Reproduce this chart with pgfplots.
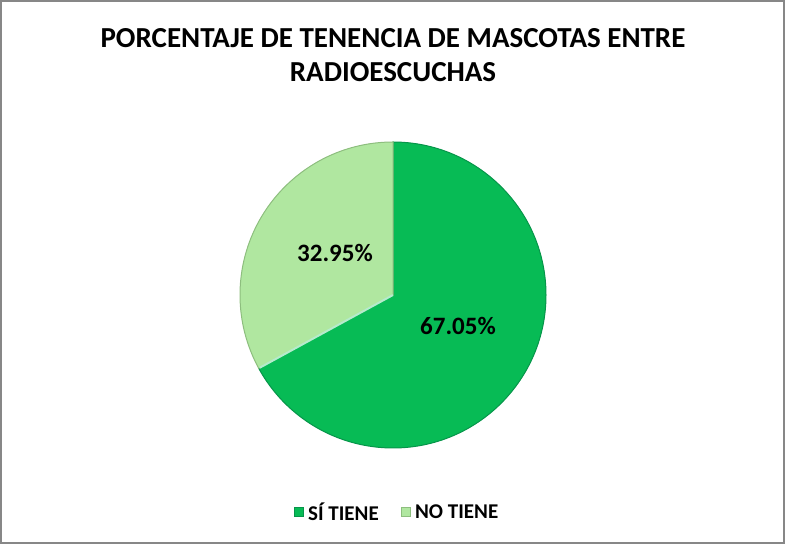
\documentclass[border=0pt]{standalone}
\usepackage{fontspec}
\setmainfont{Carlito}
\usepackage{pgfplots}
\usepackage{pgfplotstable}
\pgfplotsset{compat=1.18}
\definecolor{sigreen}{HTML}{07BB55}
\definecolor{siedge}{HTML}{06954A}
\definecolor{nogreen}{HTML}{B0E7A0}
\definecolor{noedge}{HTML}{8DBE7E}
\definecolor{frame}{HTML}{878787}
\pgfplotstableread{
label value
SI 67.05
NO 32.95
}\pietable
\begin{document}
\begin{tikzpicture}
\pgfplotstablegetelem{0}{value}\of\pietable\let\vsi\pgfplotsretval
\pgfplotstablegetelem{1}{value}\of\pietable\let\vno\pgfplotsretval
\pgfmathsetmacro{\endsi}{90-3.6*\vsi}
\begin{axis}[
  x=1pt, y=1pt,
  xmin=0, xmax=785, ymin=0, ymax=544,
  hide axis,
  clip=false,
  /pgf/number format/assume math mode=true,
  legend columns=2,
  legend style={at={(axis cs:397,32)}, anchor=center, draw=none, fill=none,
    font=\bfseries\fontsize{21}{24}\selectfont,
    /tikz/every odd column/.append style={column sep=3pt},
    /tikz/every even column/.append style={column sep=20pt}},
  legend image code/.code={\fill[#1] (0pt,-4.5pt) rectangle (9pt,4.5pt);},
]
\addlegendimage{fill=sigreen, draw=siedge}
\addlegendentry{SÍ TIENE}
\addlegendimage{fill=nogreen, draw=noedge}
\addlegendentry{NO TIENE}
% slices
\fill[sigreen, draw=siedge, line width=1pt] (axis cs:393,249) -- (axis cs:393,402)
  arc[start angle=90, end angle=\endsi, radius=153] -- cycle;
\fill[nogreen, draw=noedge, line width=1pt] (axis cs:393,249) -- (axis cs:393,402)
  arc[start angle=90, end angle=\endsi+360, radius=153] -- cycle;
\draw[white!70!sigreen, line width=2pt] (axis cs:393,249) -- ++(\endsi:152);
% labels
\node[font=\bfseries\fontsize{25}{28}\selectfont] at (axis cs:458,218) {\pgfmathprintnumber[fixed,precision=2,fixed zerofill]{\vsi}\%};
\node[font=\bfseries\fontsize{25}{28}\selectfont] at (axis cs:335,291) {\pgfmathprintnumber[fixed,precision=2,fixed zerofill]{\vno}\%};
% title
\node[font=\bfseries\fontsize{29}{34}\selectfont, align=center] at (axis cs:393,489)
  {PORCENTAJE DE TENENCIA DE MASCOTAS ENTRE\\RADIOESCUCHAS};
% frame
\draw[frame, line width=2pt] (axis cs:1,1) rectangle (axis cs:784,543);
\end{axis}
\pgfresetboundingbox
\path (0,0) rectangle (785pt,544pt);
\end{tikzpicture}
\end{document}
